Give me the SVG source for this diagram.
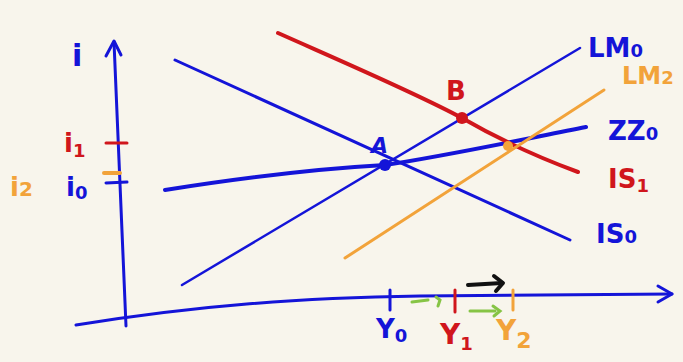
<svg xmlns="http://www.w3.org/2000/svg" width="683" height="362" viewBox="0 0 683 362">
<style>
.bl{stroke:#1414d8;fill:none;stroke-linecap:round;stroke-linejoin:round}
.rd{stroke:#d0161c;fill:none;stroke-linecap:round}
.or{stroke:#f2a33a;fill:none;stroke-linecap:round}
.gr{stroke:#86c445;fill:none;stroke-linecap:round}
.bk{stroke:#111;fill:none;stroke-linecap:round;stroke-linejoin:round}
text{font-family:"DejaVu Sans",sans-serif;font-weight:bold}
.tb{fill:#1414d8}.tr{fill:#d0161c}.to{fill:#f2a33a}
</style>
<rect width="683" height="362" fill="#f8f5ec"/>
<g id="axes">
<path class="bl" d="M126,326 L114,42" stroke-width="3"/>
<path class="bl" d="M106,56 L114,41 L121,55" stroke-width="3"/>
<path class="bl" d="M76,325 C200,305 300,298 420,296 L672,294" stroke-width="3"/>
<path class="bl" d="M658,286 L672,294 L658,302" stroke-width="3"/>
</g>
<g id="connectors">
<path id="IS0" class="bl" d="M175,60 L570,240" stroke-width="3"/>
<path id="LM0" class="bl" d="M182,285 L580,48" stroke-width="2.5"/>
<path id="ZZ0" class="bl" d="M165,190 C260,175 330,168 385,165 C450,155 520,140 586,127" stroke-width="4"/>
<path id="IS1" class="rd" d="M278,33 C350,65 420,95 462,118 C500,140 540,158 578,172" stroke-width="4"/>
<path id="LM2" class="or" d="M345,258 L604,90" stroke-width="3"/>
<path class="gr" d="M412,302 L428,300" stroke-width="3"/>
<path class="gr" d="M436,297 L440,300 L438,306" stroke-width="3"/>
<path class="gr" d="M470,311 L495,311" stroke-width="3"/>
<path class="gr" d="M493,306 L500,311 L494,316" stroke-width="3"/>
<path class="bk" d="M468,285 L502,283" stroke-width="4"/>
<path class="bk" d="M494,276 L503,283 L496,291" stroke-width="4"/>
</g>
<g id="ticks">
<path class="rd" d="M106,143 L127,143" stroke-width="3"/>
<path class="or" d="M104,173 L120,173" stroke-width="4"/>
<path class="bl" d="M106,183 L127,182" stroke-width="3"/>
<path class="bl" d="M390,290 L390,310" stroke-width="3"/>
<path class="rd" d="M455,290 L455,312" stroke-width="3"/>
<path class="or" d="M513,290 L513,310" stroke-width="3"/>
</g>
<g id="A"><circle cx="385" cy="165" r="6" fill="#1414d8"/><text x="371" y="153" class="tb" font-size="22" font-style="italic">A</text></g>
<g id="B"><circle cx="462" cy="118" r="6" fill="#d0161c"/><text x="446" y="100" class="tr" font-size="26">B</text></g>
<g id="C"><circle cx="508" cy="146" r="5" fill="#f2a33a"/></g>
<g id="labels">
<text x="72" y="66" class="tb" font-size="30">i</text>
<text x="64" y="152" class="tr" font-size="26">i<tspan font-size="18" dy="5">1</tspan></text>
<text x="66" y="196" class="tb" font-size="26">i<tspan font-size="18" dy="3">0</tspan></text>
<text x="10" y="196" class="to" font-size="26">i<tspan font-size="20">2</tspan></text>
<text x="588" y="57" class="tb" font-size="26">LM<tspan font-size="18">0</tspan></text>
<text x="622" y="84" class="to" font-size="24">LM<tspan font-size="18">2</tspan></text>
<text x="608" y="140" class="tb" font-size="26">ZZ<tspan font-size="18">0</tspan></text>
<text x="608" y="188" class="tr" font-size="26">IS<tspan font-size="18" dy="4">1</tspan></text>
<text x="596" y="243" class="tb" font-size="26">IS<tspan font-size="18">0</tspan></text>
<text x="376" y="338" class="tb" font-size="26">Y<tspan font-size="18" dy="4">0</tspan></text>
<text x="440" y="344" class="tr" font-size="28">Y<tspan font-size="18" dy="6">1</tspan></text>
<text x="496" y="340" class="to" font-size="28">Y<tspan font-size="22" dy="8">2</tspan></text>
</g>
</svg>
